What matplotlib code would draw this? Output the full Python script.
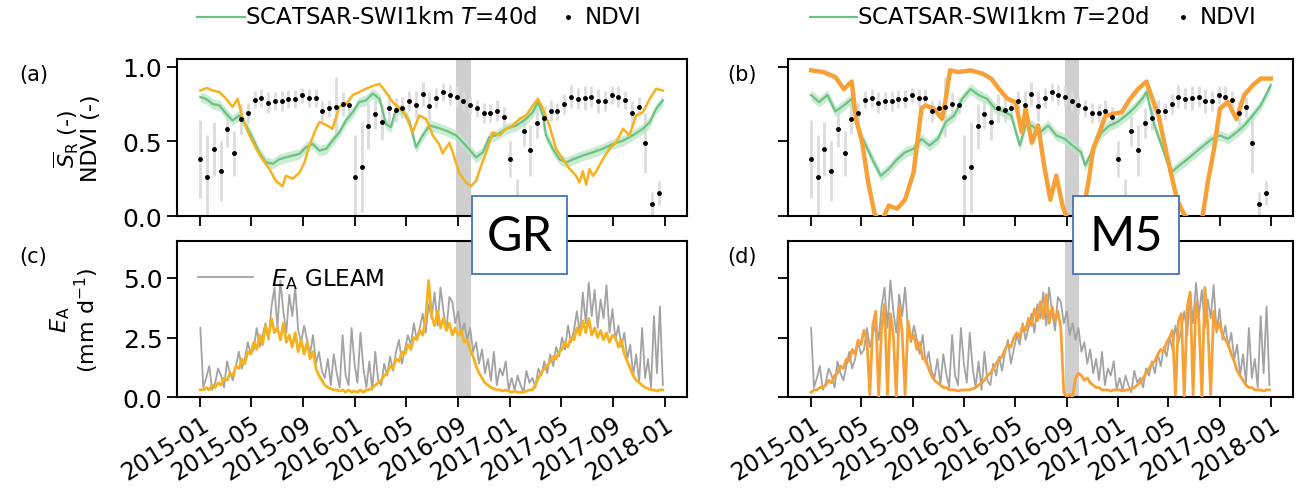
import numpy as np
import pandas as pd
import matplotlib
matplotlib.use('Agg')
import matplotlib.pyplot as plt
import matplotlib.dates as mdates
from matplotlib.patches import Rectangle
from matplotlib.lines import Line2D

plt.rcParams['font.size'] = 15

start = pd.Timestamp('2015-01-01')

# ---------------- data (days since 2015-01-01) ----------------
# root-zone storage, model GR (panel a)
gr_day = [0, 16, 29, 45, 61, 76, 88, 100, 116, 132, 147, 163, 178, 194, 202, 218, 234, 246, 257, 273,
          281, 297, 312, 328, 344, 360, 375, 391, 407, 423, 438, 454, 470, 486, 501, 517, 533, 549, 564, 572,
          588, 599, 611, 627, 639, 651, 663, 675, 690, 706, 722, 738, 753, 769, 785, 797, 809, 824, 840, 856,
          872, 887, 895, 903, 911, 919, 927, 935, 950, 966, 982, 998, 1013, 1029, 1045, 1061, 1076, 1092]
gr_sr = [0.84, 0.857, 0.84, 0.83, 0.785, 0.73, 0.785, 0.65, 0.54, 0.45, 0.38, 0.315, 0.236, 0.20, 0.27, 0.25, 0.29, 0.36, 0.47, 0.584,
         0.63, 0.61, 0.584, 0.73, 0.75, 0.81, 0.83, 0.852, 0.87, 0.885, 0.83, 0.763, 0.718, 0.673, 0.56, 0.673, 0.65, 0.54, 0.48, 0.42,
         0.49, 0.40, 0.29, 0.226, 0.20, 0.236, 0.338, 0.427, 0.56, 0.54, 0.584, 0.606, 0.65, 0.673, 0.74, 0.785, 0.718, 0.606, 0.45, 0.38,
         0.315, 0.27, 0.226, 0.30, 0.21, 0.315, 0.27, 0.30, 0.38, 0.45, 0.495, 0.584, 0.54, 0.673, 0.695, 0.785, 0.852, 0.84]

# SCATSAR-SWI T=40d (panel a)
swi40_day = [0, 13, 29, 45, 61, 76, 92, 108, 124, 139, 155, 171, 186, 202, 218, 234, 249, 265, 281, 297,
             312, 328, 344, 360, 375, 391, 407, 423, 438, 450, 462, 478, 494, 509, 525, 541, 564, 580, 604, 627,
             651, 667, 682, 698, 722, 746, 769, 785, 797, 809, 816, 832, 848, 864, 880, 903, 927, 950, 974, 998,
             1021, 1045, 1061, 1076, 1092]
swi40 = [0.796, 0.785, 0.75, 0.74, 0.685, 0.64, 0.673, 0.606, 0.517, 0.427, 0.36, 0.35, 0.38, 0.393, 0.405, 0.416, 0.46, 0.483, 0.438, 0.45,
         0.505, 0.56, 0.64, 0.696, 0.763, 0.774, 0.82, 0.785, 0.617, 0.595, 0.718, 0.707, 0.628, 0.46, 0.54, 0.606, 0.588, 0.572, 0.54, 0.472,
         0.393, 0.427, 0.528, 0.54, 0.584, 0.606, 0.65, 0.696, 0.763, 0.673, 0.54, 0.45, 0.38, 0.36, 0.38, 0.405, 0.427, 0.45, 0.483, 0.505,
         0.54, 0.584, 0.628, 0.718, 0.774]

# root-zone storage, model M5 (panel b)
m5_day = [0, 29, 58, 78, 97, 107, 122, 136, 151, 166, 185, 205, 224, 244, 253, 263, 273, 292, 312, 321,
          331, 351, 380, 409, 429, 448, 468, 487, 502, 511, 526, 541, 555, 570, 584, 599, 614, 633, 648, 662,
          672, 687, 701, 721, 740, 760, 779, 799, 813, 828, 843, 857, 872, 886, 906, 930, 945, 960, 974, 993,
          1013, 1032, 1052, 1071, 1095]
m5_sr = [0.975, 0.964, 0.93, 0.85, 0.90, 0.65, 0.49, 0.226, 0.02, -0.05, 0.07, 0.05, 0.11, 0.29, 0.49, 0.72, 0.74, 0.72, 0.65, 0.785,
         0.975, 0.964, 0.975, 0.953, 0.92, 0.85, 0.785, 0.763, 0.56, 0.72, 0.49, 0.606, 0.34, 0.11, 0.27, 0.07, -0.05, -0.05, 0.025, 0.25,
         0.45, 0.56, 0.67, 0.685, 0.695, 0.785, 0.85, 0.90, 0.785, 0.67, 0.47, 0.29, 0.11, 0.025, -0.05, -0.05, 0.226, 0.45, 0.72, 0.763,
         0.65, 0.81, 0.875, 0.92, 0.92]

# SCATSAR-SWI T=20d (panel b)
swi20_day = [0, 19, 39, 58, 78, 97, 112, 127, 146, 166, 185, 205, 224, 244, 263, 282, 302, 321, 341, 360,
             380, 399, 419, 438, 458, 477, 497, 511, 526, 545, 565, 584, 604, 623, 643, 653, 672, 692, 711, 730,
             750, 769, 789, 799, 818, 838, 857, 877, 896, 916, 935, 955, 974, 993, 1013, 1032, 1052, 1071, 1095]
swi20 = [0.81, 0.763, 0.81, 0.70, 0.74, 0.785, 0.584, 0.494, 0.38, 0.27, 0.315, 0.38, 0.427, 0.45, 0.517, 0.472, 0.517, 0.63, 0.673, 0.785,
         0.85, 0.81, 0.785, 0.72, 0.70, 0.673, 0.472, 0.606, 0.606, 0.56, 0.606, 0.54, 0.517, 0.472, 0.427, 0.338, 0.45, 0.56, 0.606, 0.63,
         0.673, 0.72, 0.785, 0.83, 0.606, 0.45, 0.29, 0.338, 0.38, 0.427, 0.472, 0.517, 0.54, 0.517, 0.56, 0.606, 0.673, 0.74, 0.875]
swi_band = 0.035

# NDVI 16-day composites (DOY 1, 17, ..., 353) for 2015, 2016, 2017
ndvi_years = [2015, 2016, 2017]
ndvi_doy = list(range(1, 354, 16))
ndvi = [0.38, 0.26, 0.45, 0.30, 0.58, 0.42, 0.65, 0.69, 0.78, 0.79, 0.76, 0.77, 0.77, 0.785, 0.785, 0.81, 0.79, 0.79, 0.70, 0.72, 0.73, 0.75, 0.74,
        0.26, 0.33, 0.60, 0.68, 0.63, 0.72, 0.71, 0.725, 0.77, 0.745, 0.815, 0.735, 0.79, 0.83, 0.81, 0.80, 0.77, 0.74, 0.72, 0.69, 0.69, 0.705, 0.66,
        0.38, 0.10, 0.57, 0.44, 0.62, 0.655, 0.705, 0.70, 0.75, 0.80, 0.785, 0.79, 0.80, 0.767, 0.77, 0.81, 0.80, 0.776, 0.687, 0.73, 0.49, 0.083, 0.156]
ndvi_err = [0.26, 0.28, 0.18, 0.20, 0.12, 0.15, 0.10, 0.07, 0.06, 0.06, 0.07, 0.06, 0.07, 0.06, 0.06, 0.05, 0.06, 0.06, 0.07, 0.06, 0.20, 0.08, 0.06,
            0.28, 0.30, 0.15, 0.10, 0.12, 0.10, 0.08, 0.07, 0.07, 0.09, 0.08, 0.10, 0.07, 0.06, 0.07, 0.07, 0.07, 0.06, 0.06, 0.07, 0.06, 0.07, 0.07,
            0.12, 0.15, 0.10, 0.17, 0.10, 0.08, 0.07, 0.06, 0.07, 0.08, 0.07, 0.08, 0.07, 0.08, 0.07, 0.06, 0.07, 0.06, 0.08, 0.07, 0.20, 0.08, 0.08]

# weekly evaporation (mm/d), 157 weeks from 2015-01-01
ea_gleam = [2.9, 0.4, 0.8, 1.3, 0.3, 0.6, 1.2, 0.9, 0.4, 1.5, 1.0, 0.7, 1.3, 1.9, 1.2, 1.6, 2.3, 1.8, 2.0, 2.9, 2.1, 2.6,
            3.1, 2.4, 3.8, 4.6, 2.9, 4.9, 3.6, 2.7, 4.3, 3.4, 4.6, 2.8, 2.3, 3.0, 2.4, 1.8, 2.6, 1.4, 1.9, 1.1, 0.8, 1.6,
            0.5, 1.8, 1.0, 0.4, 2.6, 0.9, 0.5, 2.9, 1.4,
            0.6, 2.7, 1.2, 0.4, 1.5, 0.3, 1.9, 0.7, 0.5, 1.4, 0.9, 1.7, 1.1, 1.9, 2.4, 1.4, 2.0, 2.6, 2.2, 3.1, 2.4, 2.9,
            3.5, 2.7, 3.9, 3.3, 4.4, 3.0, 4.6, 3.6, 2.8, 4.2, 4.0, 3.1, 3.6, 2.6, 3.1, 2.4, 2.9, 1.9, 2.3, 1.4, 2.0, 1.0,
            1.6, 0.7, 1.9, 0.5, 1.2, 0.9, 1.5, 0.3,
            0.8, 0.3, 0.9, 0.5, 0.2, 1.1, 0.6, 0.8, 0.4, 1.2, 0.9, 1.5, 1.0, 1.8, 1.3, 2.1, 1.7, 2.5, 2.0, 3.0, 2.3, 2.8,
            3.6, 2.6, 4.4, 3.1, 4.8, 3.4, 4.5, 2.9, 4.1, 3.3, 4.7, 2.7, 3.7, 2.4, 3.0, 2.1, 2.7, 1.6, 2.2, 0.9, 1.8, 0.6,
            2.9, 0.8, 1.6, 0.4, 3.4, 1.0, 3.8, 0.5]
ea_gr = [0.3, 0.3, 0.4, 0.3, 0.5, 0.4, 0.6, 0.5, 0.8, 0.7, 1.0, 0.9, 1.3, 1.2, 1.6, 1.4, 1.9, 1.8, 2.3, 2.0, 2.6, 2.2,
         3.0, 2.5, 3.3, 2.7, 2.9, 2.4, 3.1, 2.3, 2.6, 2.1, 2.7, 1.9, 2.4, 1.8, 2.3, 1.6, 1.9, 1.2, 0.9, 0.7, 0.5, 0.4,
         0.35, 0.3, 0.3, 0.25, 0.3, 0.2, 0.3, 0.2, 0.25,
         0.2, 0.3, 0.2, 0.3, 0.3, 0.4, 0.5, 0.6, 0.7, 0.9, 1.0, 1.3, 1.2, 1.6, 1.5, 1.9, 1.8, 2.2, 2.0, 2.5, 2.4,
         2.8, 2.6, 3.3, 4.9, 3.4, 3.0, 3.6, 2.9, 3.3, 2.8, 3.1, 2.6, 2.9, 2.6, 2.8, 2.3, 2.4, 2.0, 1.7, 1.3, 1.0, 0.8,
         0.6, 0.5, 0.4, 0.35, 0.3, 0.3, 0.25, 0.3, 0.25,
         0.2, 0.25, 0.2, 0.2, 0.2, 0.25, 0.3, 0.3, 0.5, 0.8, 1.0, 1.2, 1.3, 1.5, 1.7, 1.6, 1.9, 2.0, 2.3, 2.1, 2.5,
         2.4, 2.9, 2.6, 3.2, 2.7, 3.3, 2.6, 2.9, 2.5, 2.8, 2.4, 2.7, 2.3, 2.6, 2.5, 2.1, 2.4, 1.8, 1.5, 1.2, 0.9, 0.7,
         0.6, 0.5, 0.4, 0.35, 0.3, 0.3, 0.25, 0.3, 0.3]
ea_m5 = [0.2, 0.3, 0.3, 0.4, 0.4, 0.5, 0.7, 0.6, 0.9, 1.0, 1.3, 1.2, 1.6, 1.5, 2.0, 1.8, 2.4, 2.2, 2.8, 2.4, 0.1, 3.0,
         3.6, 0.0, 2.9, 3.9, 0.1, 3.5, 2.6, 0.0, 3.8, 2.7, 0.1, 3.2, 2.4, 2.6, 2.0, 2.3, 1.6, 1.6, 1.2, 0.9, 0.7, 0.6,
         0.5, 0.4, 0.4, 0.3, 0.3, 0.3, 0.25, 0.3, 0.3,
         0.3, 0.3, 0.35, 0.4, 0.5, 0.6, 0.7, 0.9, 1.0, 1.2, 1.4, 1.6, 1.7, 2.0, 2.2, 2.1, 2.5, 2.7, 2.5, 3.0, 2.8,
         3.3, 3.0, 3.7, 3.2, 4.0, 3.3, 4.3, 3.1, 3.8, 3.2, 3.6, 2.9, 0.2, 0.0, 0.1, 0.0, 0.8, 1.0, 0.9, 0.7, 0.8, 0.6,
         0.5, 0.4, 0.4, 0.3, 0.3, 0.3, 0.25, 0.3, 0.3,
         0.3, 0.25, 0.3, 0.3, 0.35, 0.4, 0.5, 0.6, 0.8, 1.0, 1.2, 1.4, 1.5, 1.8, 2.0, 1.9, 2.3, 2.5, 2.8, 0.1, 3.2,
         3.5, 0.0, 3.8, 4.4, 0.1, 4.0, 3.2, 0.0, 4.6, 3.0, 0.1, 3.6, 2.8, 3.1, 2.6, 2.4, 2.2, 1.8, 1.5, 1.1, 0.9, 0.7,
         0.5, 0.4, 0.4, 0.3, 0.3, 0.3, 0.25, 0.3, 0.3]

event = ('2016-08-27', '2016-10-01')  # shaded period


def to_dates(days):
    return start + pd.to_timedelta(np.asarray(days), unit='D')


ndvi_dates = pd.DatetimeIndex([pd.Timestamp(f'{y}-01-01') + pd.Timedelta(days=d - 1)
                               for y in ndvi_years for d in ndvi_doy])
week_dates = to_dates(np.arange(len(ea_gleam)) * 7)
ndvi = np.array(ndvi)
ndvi_err = np.array(ndvi_err)

c_gr = '#f6b21c'
c_m5 = '#f7a035'
c_swi = '#6cc184'
c_band = '#bfe6c9'
c_gleam = '#a3a3a3'

fig = plt.figure(figsize=(12.96, 4.89), dpi=100)
ax_a = fig.add_axes([0.1366, 0.556, 0.3935, 0.321])
ax_b = fig.add_axes([0.608, 0.556, 0.390, 0.321])
ax_c = fig.add_axes([0.1366, 0.186, 0.3935, 0.319])
ax_d = fig.add_axes([0.608, 0.186, 0.390, 0.319])

xlim = (pd.Timestamp('2014-11-07'), pd.Timestamp('2018-02-23'))


def top_panel(ax, sr_day, sr, sr_color, swi_day, swi, lw):
    ax.axvspan(pd.Timestamp(event[0]), pd.Timestamp(event[1]), color='#cfcfcf', lw=0, zorder=0)
    ax.vlines(ndvi_dates, ndvi - ndvi_err, ndvi + ndvi_err, color='#dcdcdc', lw=2, zorder=1)
    d = to_dates(swi_day)
    ax.fill_between(d, np.array(swi) - swi_band, np.array(swi) + swi_band, color=c_band, lw=0, alpha=0.8, zorder=2)
    ax.plot(d, swi, color=c_swi, lw=1.6, zorder=3)
    ax.plot(to_dates(sr_day), sr, color=sr_color, lw=lw, zorder=4)
    ax.plot(ndvi_dates, ndvi, 'k.', ms=5, zorder=5)
    ax.set_ylim(0, 1.05)
    ax.set_yticks([0, 0.5, 1.0])


top_panel(ax_a, gr_day, gr_sr, c_gr, swi40_day, swi40, 1.8)
top_panel(ax_b, m5_day, m5_sr, c_m5, swi20_day, swi20, 3.2)

for ax, ea, col in [(ax_c, ea_gr, c_gr), (ax_d, ea_m5, c_m5)]:
    ax.axvspan(pd.Timestamp(event[0]), pd.Timestamp(event[1]), color='#cfcfcf', lw=0, zorder=0)
    ax.plot(week_dates, ea_gleam, color=c_gleam, lw=1.3, zorder=2)
    ax.plot(week_dates, ea, color=col, lw=2.0, zorder=3)
    ax.set_ylim(0, 6.55)
    ax.set_yticks([0, 2.5, 5.0])

for ax in [ax_a, ax_b, ax_c, ax_d]:
    ax.set_xlim(xlim)
    ax.xaxis.set_major_locator(mdates.MonthLocator(bymonth=[1, 5, 9]))
    ax.xaxis.set_major_formatter(mdates.DateFormatter('%Y-%m'))
    ax.tick_params(length=7, width=1.3)
    ax.tick_params(axis='y', labelsize=18)
    ax.tick_params(axis='x', labelsize=17)
    for s in ax.spines.values():
        s.set_linewidth(1.5)

for ax in [ax_a, ax_b]:
    ax.tick_params(labelbottom=False)
for ax in [ax_b, ax_d]:
    ax.tick_params(labelleft=False)
for ax in [ax_c, ax_d]:
    for lab in ax.get_xticklabels():
        lab.set_rotation(32)
        lab.set_ha('right')
        lab.set_rotation_mode('anchor')

ax_a.set_ylabel(r'$\overline{S}_\mathrm{R}$ (-)' + '\nNDVI (-)', fontsize=16, linespacing=1.0)
ax_c.set_ylabel(r'$E_\mathrm{A}$' + '\n' + r'(mm d$^{-1}$)', fontsize=16, linespacing=1.0)
ax_a.yaxis.set_label_coords(-0.15, 0.5)
ax_c.yaxis.set_label_coords(-0.15, 0.5)

for ax, lab, x in [(ax_a, '(a)', 0.015), (ax_b, '(b)', 0.561), (ax_c, '(c)', 0.015), (ax_d, '(d)', 0.561)]:
    bb = ax.get_position()
    fig.text(x, bb.y1 - 0.03, lab, fontsize=15, va='center')

# top legends, laid out by hand so the NDVI dot sits close to its label
ly = 1 - 18 / 489
for (x0, x1, xdot, T) in [(197, 245, 568, 40), (810, 857, 1183, 20)]:
    fig.add_artist(Line2D([x0 / 1296, x1 / 1296], [ly, ly], color=c_swi, lw=1.6, transform=fig.transFigure))
    fig.text(x1 / 1296, ly, f'SCATSAR-SWI1km $T$={T}d', fontsize=16.5, ha='left', va='center')
    fig.add_artist(Line2D([xdot / 1296], [ly], color='k', marker='.', ms=5, ls='none', transform=fig.transFigure))
    fig.text((xdot + 17) / 1296, ly, 'NDVI', fontsize=16.5, ha='left', va='center')

ax_c.legend([Line2D([], [], color=c_gleam, lw=1.3)], [r'$E_\mathrm{A}$ GLEAM'], loc='upper left',
            frameon=False, handlelength=2.4, fontsize=16.5, bbox_to_anchor=(0.0, 0.97))

# model name boxes
for x0, w, name in [(472, 95, 'GR'), (1073, 106, 'M5')]:
    fig.add_artist(Rectangle((x0 / 1296, 1 - 275 / 489), w / 1296, 78 / 489, transform=fig.transFigure,
                             facecolor='white', edgecolor='#4472c4', lw=1.3, zorder=10))
    fig.text((x0 + w / 2) / 1296, 1 - 237 / 489, name, fontsize=35, family='Lato',
             ha='center', va='center', zorder=11)

fig.savefig('out.png', dpi=100)
